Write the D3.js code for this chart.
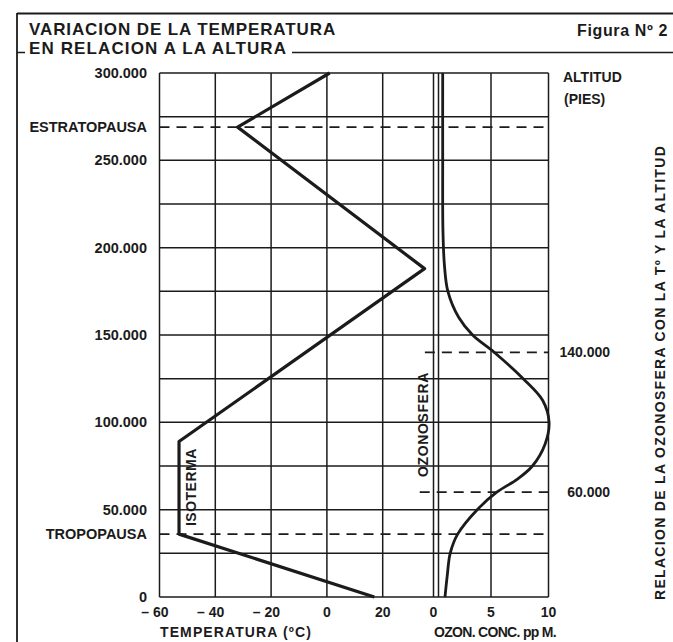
<!DOCTYPE html>
<html><head><meta charset="utf-8">
<script src="https://cdn.jsdelivr.net/npm/d3@7"></script>
<style>
html,body{margin:0;padding:0;background:#fff;}
svg{display:block;font-family:"Liberation Sans",Arial,Helvetica,sans-serif;}
</style></head>
<body>
<svg id="c" width="673" height="642"></svg>
<script>
// ---- data ----
const altTemp = [0, 36000, 89000, 188000, 269000, 300000];
const tempVals = [17, -53, -53, 35, -32, 1];
const altOzone = [0, 12500, 25000, 36000, 50000, 60000, 67500, 75000, 87500, 100000, 112500, 125000, 140000, 150000, 160000, 175000, 190000, 210000, 250000, 300000];
const ozoneVals = [1.0, 1.2, 1.45, 2.1, 3.8, 5.5, 7.3, 8.6, 9.7, 10.05, 9.5, 7.8, 5.3, 3.4, 2.2, 1.25, 0.95, 0.82, 0.8, 0.8];
const altGrid = d3.range(0, 300001, 25000);
const altTicks = [0, 50000, 100000, 150000, 200000, 250000, 300000];
const tempGrid = [-60, -40, -20, 0, 20, 40];
const tempTicks = [-60, -40, -20, 0, 20];
const tempTickLabels = ["– 60", "– 40", "– 20", "0", "20"];
const ozoneTicks = [0, 5, 10];
const layerNames = ["TROPOPAUSA", "ESTRATOPAUSA"];
const layerAlts = [36000, 269000];
const ozoneLayerAlts = [60000, 140000];
const ozoneLayerLabels = ["60.000", "140.000"];

// ---- scales ----
const svg = d3.select("#c");
const y = d3.scaleLinear().domain([0, 300000]).range([597, 73]);
const xT = d3.scaleLinear().domain([-60, 40]).range([159.5, 438.5]);
const xO = d3.scaleLinear().domain([0, 10]).range([433.5, 548.5]);
const ink = "#1b1b1b";
const fmt = d3.formatLocale({decimal: ",", thousands: ".", grouping: [3], currency: ["", ""]}).format(",");

function fit(sel, target) {
  const n = sel.text().length;
  const len = sel.node().getComputedTextLength();
  sel.attr("letter-spacing", ((target - len) / n).toFixed(2));
}

// ---- frame & title ----
svg.append("line").attr("x1", 17).attr("x2", 673).attr("y1", 13.5).attr("y2", 13.5).attr("stroke", ink).attr("stroke-width", 1.8);
svg.append("line").attr("x1", 17).attr("x2", 17).attr("y1", 13).attr("y2", 642).attr("stroke", ink).attr("stroke-width", 1.8);
const t1 = svg.append("text").attr("x", 29).attr("y", 35).attr("font-size", 17).attr("font-weight", "bold").attr("fill", ink).text("VARIACION DE LA TEMPERATURA");
fit(t1, 307);
const t2 = svg.append("text").attr("x", 29).attr("y", 53.5).attr("font-size", 17).attr("font-weight", "bold").attr("fill", ink).text("EN RELACION A LA ALTURA");
fit(t2, 258);
svg.append("line").attr("x1", 17).attr("x2", 25).attr("y1", 52.5).attr("y2", 52.5).attr("stroke", ink).attr("stroke-width", 1.5);
svg.append("line").attr("x1", 292).attr("x2", 673).attr("y1", 52.5).attr("y2", 52.5).attr("stroke", ink).attr("stroke-width", 1.5);
const fig = svg.append("text").attr("x", 577).attr("y", 36).attr("font-size", 16).attr("font-weight", "bold").attr("fill", ink).text("Figura Nº 2");
fit(fig, 91);

// ---- grid ----
const g = svg.append("g").attr("stroke", ink).attr("stroke-width", 1.5);
g.selectAll("line.h").data(altGrid).join("line").attr("class", "h")
  .attr("x1", xT(-60)).attr("x2", xO(10)).attr("y1", d => y(d)).attr("y2", d => y(d));
g.selectAll("line.vt").data(tempGrid).join("line").attr("class", "vt")
  .attr("x1", d => xT(d)).attr("x2", d => xT(d)).attr("y1", y(0)).attr("y2", y(300000));
g.selectAll("line.vo").data(ozoneTicks).join("line").attr("class", "vo")
  .attr("x1", d => xO(d)).attr("x2", d => xO(d)).attr("y1", y(0)).attr("y2", y(300000));

// ---- dashed layer lines ----
svg.selectAll("line.layer").data(layerAlts).join("line").attr("class", "layer")
  .attr("x1", xT(-60)).attr("x2", xO(10)).attr("y1", d => y(d)).attr("y2", d => y(d))
  .attr("stroke", ink).attr("stroke-width", 1.8).attr("stroke-dasharray", "10,7");
svg.selectAll("line.olayer").data(ozoneLayerAlts).join("line").attr("class", "olayer")
  .attr("x1", (d, i) => i === 0 ? xO(-1.2) : xO(-0.75)).attr("x2", xO(10)).attr("y1", d => y(d)).attr("y2", d => y(d))
  .attr("stroke", ink).attr("stroke-width", 1.8).attr("stroke-dasharray", "10,7");

// ---- curves ----
const tData = altTemp.map((a, i) => [tempVals[i], a]);
svg.append("path").datum(tData)
  .attr("d", d3.line().x(d => xT(d[0])).y(d => y(d[1])))
  .attr("fill", "none").attr("stroke", ink).attr("stroke-width", 3.2).attr("stroke-linejoin", "round");
const oData = altOzone.map((a, i) => [ozoneVals[i], a]);
svg.append("path").datum(oData)
  .attr("d", d3.line().curve(d3.curveCatmullRom.alpha(0.5)).x(d => xO(d[0])).y(d => y(d[1])))
  .attr("fill", "none").attr("stroke", ink).attr("stroke-width", 2.8);

// ---- left axis labels ----
svg.selectAll("text.alt").data(altTicks).join("text").attr("class", "alt")
  .attr("x", 147).attr("y", d => y(d) + 5).attr("text-anchor", "end")
  .attr("font-size", 14.5).attr("font-weight", "bold").attr("fill", ink).text(d => fmt(d));
svg.selectAll("text.layer").data(layerNames).join("text").attr("class", "layer")
  .attr("x", 147).attr("y", (d, i) => y(layerAlts[i]) + 5).attr("text-anchor", "end")
  .attr("font-size", 14.5).attr("font-weight", "bold").attr("fill", ink).text(d => d);

// ---- bottom tick labels ----
svg.selectAll("text.tt").data(tempTicks).join("text").attr("class", "tt")
  .attr("x", d => xT(d) + (d < 0 ? 9 : 0)).attr("y", 617)
  .attr("text-anchor", d => d < 0 ? "end" : "middle")
  .attr("font-size", 14).attr("font-weight", "bold").attr("fill", ink)
  .text((d, i) => tempTickLabels[i]);
svg.selectAll("text.ot").data(ozoneTicks).join("text").attr("class", "ot")
  .attr("x", d => xO(d)).attr("y", 617).attr("text-anchor", "middle")
  .attr("font-size", 14).attr("font-weight", "bold").attr("fill", ink).text(d => d);
const xt1 = svg.append("text").attr("x", 160).attr("y", 637).attr("font-size", 14).attr("font-weight", "bold").attr("fill", ink).text("TEMPERATURA (ºC)");
fit(xt1, 152);
const xt2 = svg.append("text").attr("x", 434).attr("y", 637).attr("font-size", 14).attr("font-weight", "bold").attr("fill", ink).text("OZON. CONC. pp M.");
fit(xt2, 122);

// ---- right labels ----
svg.append("text").attr("x", 563).attr("y", 82).attr("font-size", 14).attr("font-weight", "bold").attr("fill", ink).text("ALTITUD");
svg.append("text").attr("x", 564).attr("y", 104).attr("font-size", 14).attr("font-weight", "bold").attr("fill", ink).text("(PIES)");
svg.selectAll("text.ol").data(ozoneLayerAlts).join("text").attr("class", "ol")
  .attr("x", 610).attr("y", d => y(d) + 5).attr("text-anchor", "end")
  .attr("font-size", 14).attr("font-weight", "bold").attr("fill", ink).text((d, i) => ozoneLayerLabels[i]);
const rt = svg.append("text").attr("transform", "translate(665,600) rotate(-90)")
  .attr("font-size", 14).attr("fill", ink).attr("font-weight", "bold").text("RELACION DE LA OZONOSFERA CON LA Tº Y LA ALTITUD");
fit(rt, 455);

// ---- rotated in-plot labels ----
const iso = svg.append("text").attr("transform", `translate(196,${y(36000) - 8}) rotate(-90)`)
  .attr("font-size", 14).attr("font-weight", "bold").attr("fill", ink).text("ISOTERMA");
fit(iso, 78);
const ozs = svg.append("text").attr("transform", `translate(428,477) rotate(-90)`)
  .attr("font-size", 14).attr("font-weight", "bold").attr("fill", ink).text("OZONOSFERA");
fit(ozs, 105);
</script>
</body></html>
